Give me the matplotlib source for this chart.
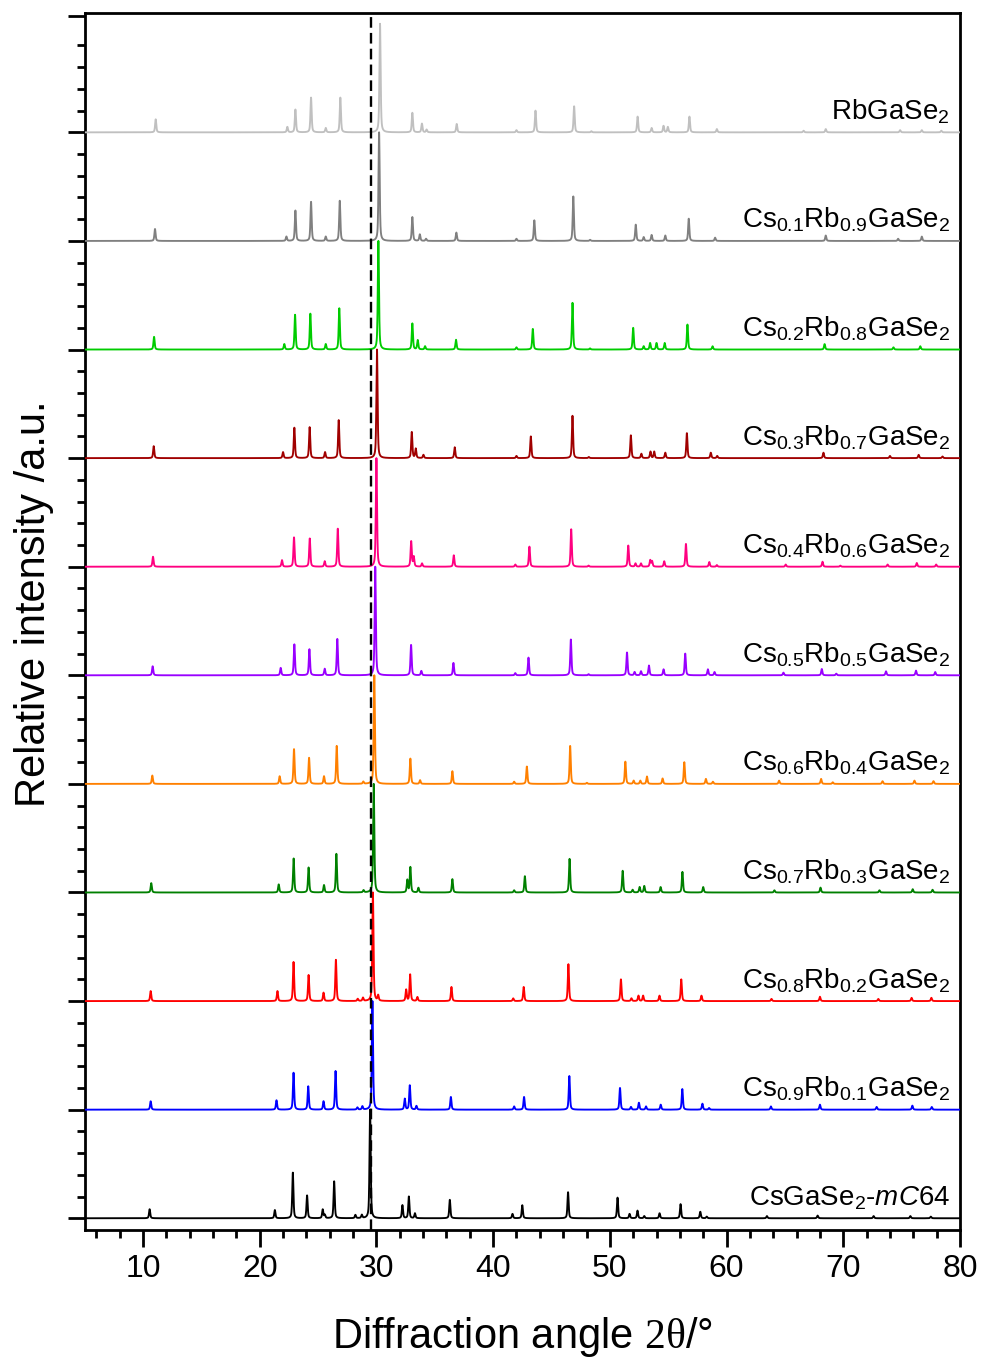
import numpy as np
import matplotlib
matplotlib.use("Agg")
import matplotlib.pyplot as plt
from matplotlib.ticker import FixedLocator

plt.rcParams["font.family"] = ["Liberation Sans", "DejaVu Sans"]
plt.rcParams["mathtext.fontset"] = "custom"
plt.rcParams["mathtext.rm"] = "Liberation Sans"
plt.rcParams["mathtext.it"] = "Liberation Sans:italic"
plt.rcParams["mathtext.bf"] = "Liberation Sans:bold"
plt.rcParams["mathtext.tt"] = "Liberation Serif"

# ---- peak lists (2theta in degrees, relative intensity) ----
pos_cs10 = [10.57, 21.30, 22.84, 24.06, 25.40, 25.58, 26.38, 28.20, 28.75, 29.46, 32.23, 32.78, 33.30,
            36.29, 41.66, 42.50, 46.42, 50.66, 51.69, 52.37, 52.95, 54.26, 56.06, 57.75, 58.30,
            63.46, 67.80, 72.60, 75.75, 77.50]
hgt_cs10 = [0.083, 0.075, 0.42, 0.21, 0.08, 0.03, 0.34, 0.03, 0.03, 1.0, 0.12, 0.20, 0.045,
            0.17, 0.04, 0.12, 0.24, 0.19, 0.04, 0.07, 0.02, 0.046, 0.13, 0.06, 0.015,
            0.02, 0.025, 0.02, 0.02, 0.015]

pos_cs09 = [10.66, 21.44, 22.90, 24.16, 25.47, 26.50, 28.37, 28.80, 29.66, 32.43, 32.86, 33.43,
            36.38, 41.80, 42.65, 46.53, 50.87, 51.81, 52.49, 53.10, 54.36, 56.21, 57.93, 58.50,
            63.80, 68.00, 72.86, 75.92, 77.58]
hgt_cs09 = [0.077, 0.086, 0.34, 0.215, 0.077, 0.356, 0.02, 0.03, 1.0, 0.10, 0.224, 0.034,
            0.117, 0.03, 0.117, 0.31, 0.20, 0.025, 0.064, 0.03, 0.046, 0.19, 0.055, 0.015,
            0.03, 0.046, 0.025, 0.037, 0.025]

pos_cs08 = [10.66, 21.52, 22.90, 24.19, 25.47, 26.53, 28.40, 28.85, 29.70, 30.15, 32.55, 32.89, 33.51,
            36.43, 41.72, 42.62, 46.45, 50.95, 51.85, 52.45, 52.85, 54.25, 56.12, 57.85,
            63.85, 68.00, 73.00, 75.85, 77.55]
hgt_cs08 = [0.092, 0.092, 0.36, 0.24, 0.077, 0.38, 0.02, 0.03, 1.0, 0.05, 0.104, 0.245, 0.037,
            0.13, 0.025, 0.13, 0.34, 0.20, 0.025, 0.05, 0.05, 0.05, 0.20, 0.05,
            0.02, 0.04, 0.02, 0.03, 0.03]

pos_cs07 = [10.71, 21.63, 22.91, 24.19, 25.51, 26.57, 28.90, 29.77, 32.65, 32.91, 33.60, 36.51,
            41.80, 42.72, 46.55, 51.10, 51.95, 52.55, 52.95, 54.35, 56.22, 58.00,
            64.10, 68.05, 73.10, 75.95, 77.65]
hgt_cs07 = [0.086, 0.074, 0.313, 0.23, 0.068, 0.356, 0.02, 1.0, 0.114, 0.233, 0.043, 0.123,
            0.02, 0.15, 0.31, 0.20, 0.025, 0.05, 0.06, 0.05, 0.19, 0.05,
            0.02, 0.045, 0.02, 0.03, 0.025]

pos_cs06 = [10.80, 21.71, 22.94, 24.23, 25.51, 26.60, 28.88, 29.82, 32.91, 33.74, 36.51, 41.80,
            42.89, 46.60, 48.03, 51.33, 52.04, 52.61, 53.18, 54.52, 56.38, 58.23, 58.83,
            64.50, 68.10, 69.10, 73.36, 76.10, 77.73]
hgt_cs06 = [0.077, 0.07, 0.32, 0.24, 0.07, 0.35, 0.02, 1.0, 0.233, 0.034, 0.117, 0.02,
            0.16, 0.35, 0.01, 0.205, 0.03, 0.03, 0.068, 0.05, 0.20, 0.046, 0.02,
            0.03, 0.046, 0.015, 0.025, 0.03, 0.025]

pos_cs05 = [10.83, 21.80, 22.97, 24.26, 25.57, 26.65, 29.90, 32.97, 33.85, 36.60, 41.90,
            43.03, 46.66, 48.18, 51.47, 52.12, 52.67, 53.35, 54.60, 56.46, 58.40, 58.97,
            64.87, 68.16, 69.40, 73.66, 76.23, 77.88]
hgt_cs05 = [0.083, 0.068, 0.285, 0.24, 0.06, 0.335, 1.0, 0.28, 0.04, 0.114, 0.02,
            0.163, 0.33, 0.01, 0.21, 0.03, 0.037, 0.09, 0.055, 0.20, 0.055, 0.03,
            0.025, 0.058, 0.015, 0.037, 0.043, 0.03]

pos_cs04 = [10.86, 21.91, 22.94, 24.29, 25.57, 26.69, 30.00, 32.98, 33.20, 33.91, 36.63, 41.90,
            43.11, 46.69, 48.18, 51.58, 52.20, 52.67, 53.46, 53.62, 54.66, 56.52, 58.52, 59.17,
            65.07, 68.22, 69.75, 73.80, 76.30, 77.96]
hgt_cs04 = [0.092, 0.06, 0.27, 0.26, 0.05, 0.35, 1.0, 0.233, 0.09, 0.03, 0.105, 0.02,
            0.185, 0.345, 0.01, 0.195, 0.03, 0.03, 0.06, 0.05, 0.05, 0.21, 0.043, 0.015,
            0.02, 0.046, 0.01, 0.02, 0.034, 0.02]

pos_cs03 = [10.92, 22.00, 22.97, 24.28, 25.60, 26.77, 30.05, 33.03, 33.37, 34.03, 36.71, 42.00,
            43.23, 46.80, 48.20, 51.80, 52.70, 53.48, 53.80, 54.75, 56.60, 58.65, 59.20,
            68.30, 74.00, 76.46, 78.50]
hgt_cs03 = [0.11, 0.055, 0.28, 0.285, 0.055, 0.35, 1.0, 0.24, 0.086, 0.03, 0.10, 0.02,
            0.20, 0.39, 0.01, 0.21, 0.04, 0.06, 0.06, 0.05, 0.23, 0.05, 0.02,
            0.05, 0.02, 0.03, 0.015]

pos_cs02 = [10.95, 22.11, 23.03, 24.34, 25.66, 26.82, 30.17, 33.08, 33.54, 34.17, 36.82, 42.00,
            43.40, 46.80, 48.30, 52.00, 52.90, 53.45, 54.00, 54.70, 56.65, 58.80,
            68.40, 74.30, 76.60]
hgt_cs02 = [0.117, 0.05, 0.32, 0.33, 0.05, 0.38, 1.0, 0.24, 0.086, 0.03, 0.09, 0.02,
            0.19, 0.43, 0.01, 0.20, 0.03, 0.06, 0.06, 0.06, 0.23, 0.03,
            0.05, 0.02, 0.03]

pos_cs01 = [11.03, 22.29, 23.06, 24.40, 25.66, 26.86, 30.23, 33.08, 33.72, 34.25, 36.85, 42.00,
            43.53, 46.87, 48.31, 52.22, 52.90, 53.58, 54.75, 56.76, 59.02,
            68.50, 74.70, 76.73]
hgt_cs01 = [0.11, 0.04, 0.28, 0.36, 0.04, 0.37, 1.0, 0.22, 0.06, 0.02, 0.077, 0.02,
            0.19, 0.41, 0.01, 0.15, 0.035, 0.055, 0.05, 0.205, 0.03,
            0.05, 0.02, 0.04]

pos_rb10 = [11.09, 22.37, 23.06, 24.40, 25.66, 26.91, 30.31, 33.08, 33.90, 34.30, 36.88, 42.00,
            43.63, 46.94, 48.42, 52.38, 53.58, 54.60, 54.97, 56.82, 59.17,
            66.60, 68.50, 74.87, 76.73, 78.40]
hgt_rb10 = [0.12, 0.05, 0.21, 0.32, 0.04, 0.32, 1.0, 0.18, 0.08, 0.025, 0.077, 0.02,
            0.20, 0.24, 0.01, 0.145, 0.04, 0.06, 0.05, 0.145, 0.03,
            0.015, 0.03, 0.02, 0.02, 0.015]

labels = [
    r"CsGaSe$_2$-$\mathit{mC}$64",
    r"Cs$_{0.9}$Rb$_{0.1}$GaSe$_2$",
    r"Cs$_{0.8}$Rb$_{0.2}$GaSe$_2$",
    r"Cs$_{0.7}$Rb$_{0.3}$GaSe$_2$",
    r"Cs$_{0.6}$Rb$_{0.4}$GaSe$_2$",
    r"Cs$_{0.5}$Rb$_{0.5}$GaSe$_2$",
    r"Cs$_{0.4}$Rb$_{0.6}$GaSe$_2$",
    r"Cs$_{0.3}$Rb$_{0.7}$GaSe$_2$",
    r"Cs$_{0.2}$Rb$_{0.8}$GaSe$_2$",
    r"Cs$_{0.1}$Rb$_{0.9}$GaSe$_2$",
    r"RbGaSe$_2$",
]
colors = ["#000000", "#0000FF", "#FF0000", "#008000", "#FF8000", "#9900FF",
          "#FF0080", "#A00000", "#00CC00", "#808080", "#C0C0C0"]
positions = [pos_cs10, pos_cs09, pos_cs08, pos_cs07, pos_cs06, pos_cs05,
             pos_cs04, pos_cs03, pos_cs02, pos_cs01, pos_rb10]
heights = [hgt_cs10, hgt_cs09, hgt_cs08, hgt_cs07, hgt_cs06, hgt_cs05,
           hgt_cs04, hgt_cs03, hgt_cs02, hgt_cs01, hgt_rb10]
reference_line = 29.5


def profile(x, centers, amps, fwhm=0.12, eta=0.55):
    """Pseudo-Voigt pattern built from a list of reflections."""
    y = np.zeros_like(x)
    g = 4.0 * np.log(2.0) / fwhm ** 2
    for c, a in zip(centers, amps):
        d = x - c
        lor = 1.0 / (1.0 + 4.0 * d ** 2 / fwhm ** 2)
        gau = np.exp(-g * d ** 2)
        y += a * (eta * lor + (1 - eta) * gau)
    return y


two_theta = np.arange(5.0, 80.0001, 0.01)

fig = plt.figure(figsize=(9.84, 13.6), dpi=100)
ax = fig.add_axes([0.086, 0.0956, 0.8896, 0.8946])

n = len(labels)
for i in range(n - 1, -1, -1):
    y = profile(two_theta, positions[i], heights[i]) + i
    ax.plot(two_theta, y, color=colors[i], lw=1.35, zorder=3 + (n - i) * 0.1)
    ax.text(79.15, i + 0.12, labels[i], ha="right", va="baseline",
            fontsize=20, color="black", zorder=10)

ax.axvline(reference_line, color="black", lw=1.7, ls=(0, (4.5, 2.2)), zorder=8)

ax.set_xlim(5, 80)
ax.set_ylim(-0.108, 11.096)

ax.xaxis.set_major_locator(FixedLocator(np.arange(10, 81, 10)))
ax.xaxis.set_minor_locator(FixedLocator([v for v in np.arange(6, 81, 2) if v % 10 != 0]))
ax.yaxis.set_major_locator(FixedLocator(list(range(0, 11)) + [11.075]))
ax.yaxis.set_minor_locator(FixedLocator([k * 0.2 for k in range(0, 55) if k % 5 != 0]))
ax.set_yticklabels([])

ax.tick_params(axis="both", which="major", direction="out", length=12, width=2,
               labelsize=23, pad=5)
ax.tick_params(axis="both", which="minor", direction="out", length=6, width=2)
ax.tick_params(top=False, right=False, which="both")
for s in ax.spines.values():
    s.set_linewidth(2)

ax.set_xlabel(r"Diffraction angle $\mathtt{2θ}$/°", fontsize=30)
ax.set_ylabel("Relative intensity /a.u.", fontsize=30)
ax.xaxis.set_label_coords(0.5, -0.07)
ax.yaxis.set_label_coords(-0.035, 0.515)

fig.savefig("out.png", dpi=100)
